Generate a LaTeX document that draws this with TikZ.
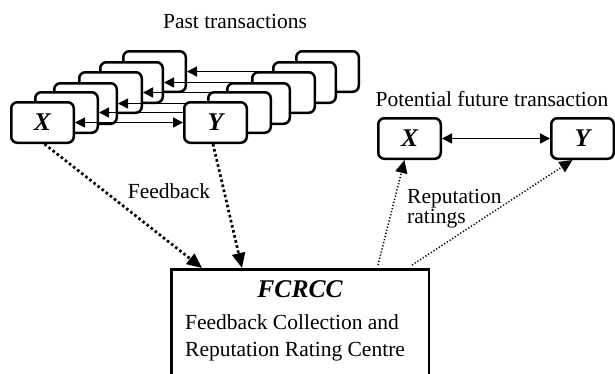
\documentclass[tikz,border=0pt]{standalone}
\usepackage{fontspec}
\setmainfont{Liberation Serif}
\usetikzlibrary{positioning,calc,arrows.meta}

\begin{document}
\begin{tikzpicture}[x=1pt,y=-1pt,
  font=\fontsize{21.5}{26}\selectfont,
  party/.style={draw,fill=white,line width=2.5pt,rounded corners=6pt,
    minimum width=62.5pt,minimum height=40.5pt,inner sep=0pt,
    font=\fontsize{25.5}{30}\selectfont\bfseries\itshape},
  deal/.style={line width=1.6pt,>={Triangle[length=10pt,width=10pt]}},
  feedback/.style={line width=2.7pt,dash pattern=on 2.6pt off 2.6pt,
    -{Triangle[length=15pt,width=13pt]}},
  rating/.style={line width=1.5pt,dash pattern=on 1.2pt off 2pt,
    -{Triangle[length=13pt,width=12pt]}},
  centre/.style={draw,line width=2.5pt,minimum width=257.5pt,minimum height=120pt}]
  \useasboundingbox (0,0) rectangle (615,373);

  \node[anchor=base] (pasttitle) at (235,28) {Past transactions};
  % older transactions, back to front
  \foreach \i/\dx/\dy in {5/112/51,4/89/40,3/68/30,2/43/19,1/24/10}{
    \node[party] (xb\i) at (42.5+\dx,122.5-\dy) {};
    \node[party] (yb\i) at (215.5+\dx,122.5-\dy) {};
    \draw[deal,->] (yb\i) -- (xb\i);
  }
  \node[party] (x0) at (42.5,122.5) {X};
  \node[party] (y0) at (215.5,122.5) {Y};
  \draw[deal,<->] (x0) -- (y0);

  \node[anchor=base] (futuretitle) at (492,106) {Potential future transaction};
  \node[party] (rx) at (409.5,138.5) {X};
  \node[party] (ry) at (582.5,138.5) {Y};
  \draw[deal,<->] (rx) -- (ry);

  \node[centre,anchor=north] (fc) at (300,268) {};
  \node[anchor=base,font=\fontsize{25.5}{30}\selectfont\bfseries\itshape] (fcname) at (300,297) {FCRCC};
  \node[anchor=north west,align=left,inner sep=0pt,font=\fontsize{21.5}{27}\selectfont] (fcfull) at (185,314.5)
    {Feedback Collection and\\Reputation Rating Centre};

  \draw[feedback] ([xshift=2pt]x0.south) -- ([xshift=-98pt]fc.north);
  \draw[feedback] ([xshift=-2.5pt]y0.south) -- ([xshift=-58pt]fc.north);
  \node[anchor=base] (fblabel) at (169,198) {Feedback};

  \draw[rating] ([xshift=78pt,yshift=3pt]fc.north) -- ([xshift=-5pt]rx.south);
  \draw[rating] ([xshift=112pt,yshift=3pt]fc.north) -- ([xshift=-10pt]ry.south);
  \node[anchor=north west,align=left,inner sep=0pt,font=\fontsize{21.5}{20}\selectfont] (ratelabel) at (407,189.5)
    {Reputation\\ratings};
\end{tikzpicture}
\end{document}
